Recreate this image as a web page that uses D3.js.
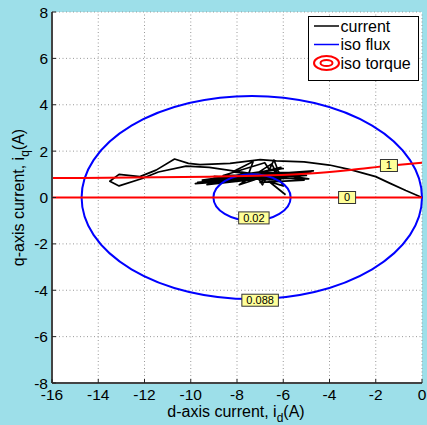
<!DOCTYPE html>
<html>
<head>
<meta charset="utf-8">
<script src="https://cdn.jsdelivr.net/npm/d3@7"></script>
<style>
  body { margin: 0; background: #9ddfe9; }
  svg { display: block; font-family: "Liberation Sans", Arial, sans-serif; }
</style>
</head>
<body>
<div id="chart"></div>
<script>
// axis ticks
const xTicks = [-16, -14, -12, -10, -8, -6, -4, -2, 0];
const yTicks = [-8, -6, -4, -2, 0, 2, 4, 6, 8];

// measured current trajectory (d, q)
const currentId = [0, -0.7, -1.4, -2.0, -3.1, -4.0, -5.1, -6.3, -7.0, -8.3, -9.6, -10.1, -10.7, -11.5, -12.2, -13.1, -13.5, -13.1, -12.1, -11.4, -10.2, -9.2,
  -7.5, -4.8, -9.5, -6.0, -9.8, -5.0, -8.6, -6.8, -6.6, -6.4, -6.2, -7.9, -7.2, -6.9, -6.6, -4.9, -9.0, -6.3, -5.6,
  -9.7, -4.7, -8.9, -5.3, -9.3, -6.1, -7.0, -5.1, -8.2, -7.3, -7.6, -6.5, -6.0, -6.6, -5.9];
const currentIq = [0, 0.3, 0.62, 0.9, 1.2, 1.4, 1.54, 1.58, 1.63, 1.47, 1.42, 1.47, 1.66, 1.18, 0.9, 1.0, 0.7, 0.5, 0.82, 1.1, 1.35, 1.3,
  1.05, 1.1, 0.75, 1.25, 0.6, 0.95, 0.95, 1.5, 1.2, 1.62, 1.1, 0.55, 1.0, 0.55, 1.05, 0.8, 0.9, 0.75, 0.95,
  0.65, 1.15, 0.85, 1.0, 0.55, 1.3, 0.65, 0.75, 1.1, 1.55, 0.75, 1.45, 0.5, 0.68, 0.12];

// iso flux contours (ellipses)
const fluxLevels = [0.02, 0.088];
const fluxCx = [-7.35, -7.36];
const fluxRx = [1.67, 7.36];
const fluxRy = [1.0, 4.38];

// iso torque contours
const torqueLevels = [0, 1];
const torqueId = [[-16, 0], [-16, -9.2, -4.85, -3.1, -1.43, 0]];
const torqueIq = [[0, 0], [0.84, 0.9, 1.04, 1.19, 1.37, 1.5]];

// contour labels
const labelText = ["1", "0", "0.02", "0.088"];
const labelId = [-1.43, -3.24, -7.27, -7.0];
const labelIq = [1.38, 0, -0.88, -4.43];

const legendNames = ["current", "iso flux", "iso torque"];

const width = 427, height = 425;
const margin = { left: 52, right: 5, top: 12, bottom: 42 };

const svg = d3.select('#chart').append('svg')
  .attr('width', width)
  .attr('height', height);

const x = d3.scaleLinear().domain([-16, 0]).range([margin.left, width - margin.right]);
const y = d3.scaleLinear().domain([-8, 8]).range([height - margin.bottom, margin.top]);

// plot area
svg.append('rect')
  .attr('x', x(-16)).attr('y', y(8))
  .attr('width', x(0) - x(-16)).attr('height', y(-8) - y(8))
  .attr('fill', 'white');

// dotted grid
svg.append('g').selectAll('line').data(xTicks).enter().append('line')
  .attr('x1', d => x(d)).attr('x2', d => x(d))
  .attr('y1', y(-8)).attr('y2', y(8))
  .attr('stroke', '#999').attr('stroke-dasharray', '1,2.5');
svg.append('g').selectAll('line').data(yTicks).enter().append('line')
  .attr('y1', d => y(d)).attr('y2', d => y(d))
  .attr('x1', x(-16)).attr('x2', x(0))
  .attr('stroke', '#999').attr('stroke-dasharray', '1,2.5');

// current trajectory
const pts = currentId.map((d, i) => [d, currentIq[i]]);
svg.append('path')
  .datum(pts)
  .attr('d', d3.line().x(d => x(d[0])).y(d => y(d[1])))
  .attr('fill', 'none')
  .attr('stroke', 'black')
  .attr('stroke-width', 1.7)
  .attr('stroke-linejoin', 'round');

// iso flux ellipses
svg.append('g').selectAll('ellipse').data(fluxLevels).enter().append('ellipse')
  .attr('cx', (d, i) => x(fluxCx[i]))
  .attr('cy', y(0))
  .attr('rx', (d, i) => x(fluxRx[i]) - x(0))
  .attr('ry', (d, i) => y(0) - y(fluxRy[i]))
  .attr('fill', 'none')
  .attr('stroke', '#0000ff')
  .attr('stroke-width', 2);

// iso torque lines
const tLine = d3.line().x(d => x(d[0])).y(d => y(d[1])).curve(d3.curveMonotoneX);
torqueLevels.forEach((lv, k) => {
  svg.append('path')
    .datum(torqueId[k].map((d, i) => [d, torqueIq[k][i]]))
    .attr('d', tLine)
    .attr('fill', 'none')
    .attr('stroke', '#ff0000')
    .attr('stroke-width', 2);
});

// contour labels
const lab = svg.append('g').selectAll('g').data(labelText).enter().append('g')
  .attr('transform', (d, i) => `translate(${x(labelId[i])},${y(labelIq[i])})`);
lab.append('rect').attr('class', 'lbox');
lab.append('text')
  .attr('text-anchor', 'middle')
  .attr('dy', '0.36em')
  .style('font-size', '11px')
  .text(d => d);
lab.each(function () {
  const g = d3.select(this);
  const w = Math.max(g.select('text').node().getComputedTextLength() + 9, 17);
  g.select('rect')
    .attr('x', -w / 2).attr('y', -6)
    .attr('width', w).attr('height', 12)
    .attr('fill', '#ffff99')
    .attr('stroke', '#333')
    .attr('stroke-width', 1);
});

// axes lines + inward ticks
svg.append('line')
  .attr('x1', x(-16)).attr('x2', x(0)).attr('y1', y(-8)).attr('y2', y(-8))
  .attr('stroke', '#444').attr('stroke-width', 2);
svg.append('line')
  .attr('x1', x(-16)).attr('x2', x(-16)).attr('y1', y(-8)).attr('y2', y(8))
  .attr('stroke', '#444').attr('stroke-width', 2);
svg.append('g').selectAll('line').data(xTicks).enter().append('line')
  .attr('x1', d => x(d)).attr('x2', d => x(d))
  .attr('y1', y(-8)).attr('y2', y(-8) - 4)
  .attr('stroke', '#222');
svg.append('g').selectAll('line').data(yTicks).enter().append('line')
  .attr('y1', d => y(d)).attr('y2', d => y(d))
  .attr('x1', x(-16)).attr('x2', x(-16) + 4)
  .attr('stroke', '#222');

// tick labels
svg.append('g').selectAll('text').data(xTicks).enter().append('text')
  .attr('x', d => x(d)).attr('y', y(-8) + 17)
  .attr('text-anchor', 'middle')
  .style('font-size', '15.5px')
  .text(d => d);
svg.append('g').selectAll('text').data(yTicks).enter().append('text')
  .attr('x', x(-16) - 4).attr('y', d => y(d))
  .attr('dy', '0.36em')
  .attr('text-anchor', 'end')
  .style('font-size', '15.5px')
  .text(d => d);

// axis titles
const xt = svg.append('text')
  .attr('x', (x(-16) + x(0)) / 2 - 1).attr('y', 417)
  .attr('text-anchor', 'middle')
  .style('font-size', '16px');
xt.append('tspan').text('d-axis current, i');
xt.append('tspan').attr('dy', 5).style('font-size', '12px').text('d');
xt.append('tspan').attr('dy', -5).text('(A)');

const yt = svg.append('text')
  .attr('transform', `translate(24,${(y(-8) + y(8)) / 2}) rotate(-90)`)
  .attr('text-anchor', 'middle')
  .style('font-size', '16px');
yt.append('tspan').text('q-axis current, i');
yt.append('tspan').attr('dy', 5).style('font-size', '12px').text('q');
yt.append('tspan').attr('dy', -5).text('(A)');

// legend
const lg = svg.append('g');
lg.append('rect')
  .attr('x', 308.5).attr('y', 16.5).attr('width', 110).attr('height', 64)
  .attr('fill', 'white').attr('stroke', 'black').attr('stroke-width', 1);
const rowY = [26, 44.5, 63];
lg.append('line').attr('x1', 314).attr('x2', 339).attr('y1', rowY[0]).attr('y2', rowY[0])
  .attr('stroke', 'black').attr('stroke-width', 1.5);
lg.append('line').attr('x1', 314).attr('x2', 339).attr('y1', rowY[1]).attr('y2', rowY[1])
  .attr('stroke', '#0000ff').attr('stroke-width', 1.5);
lg.append('ellipse').attr('cx', 326.5).attr('cy', rowY[2]).attr('rx', 12.5).attr('ry', 7)
  .attr('fill', 'none').attr('stroke', '#ff0000').attr('stroke-width', 2);
lg.append('ellipse').attr('cx', 326.5).attr('cy', rowY[2]).attr('rx', 6).attr('ry', 3)
  .attr('fill', 'none').attr('stroke', '#ff0000').attr('stroke-width', 2);
lg.selectAll('text.lt').data(legendNames).enter().append('text')
  .attr('class', 'lt')
  .attr('x', 340.5).attr('y', (d, i) => rowY[i])
  .attr('dy', '0.35em')
  .style('font-size', '16px')
  .text(d => d);
</script>
</body>
</html>
